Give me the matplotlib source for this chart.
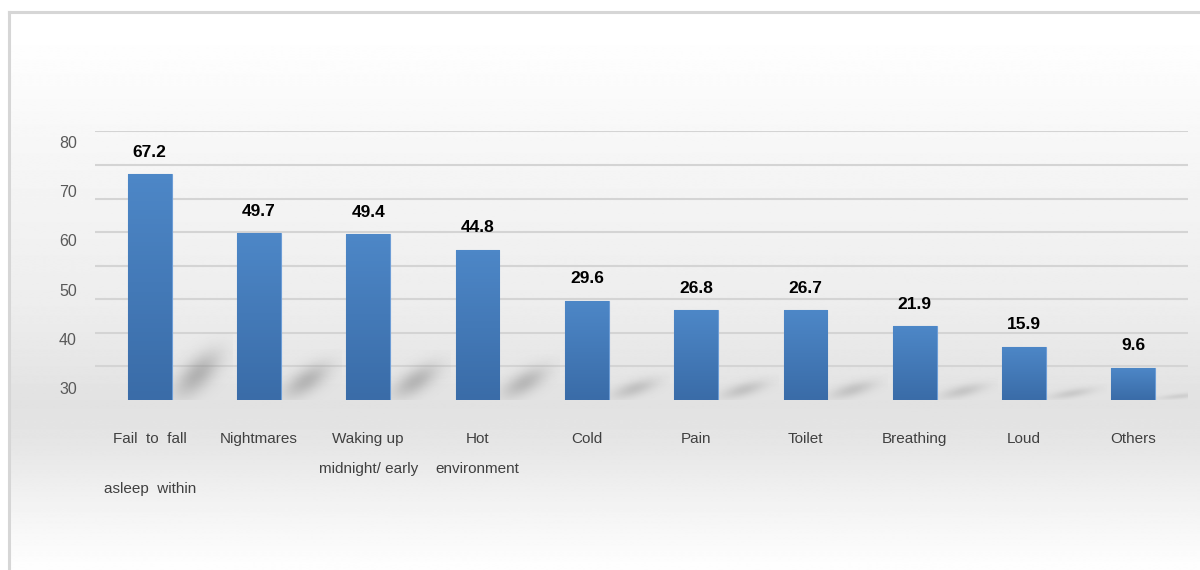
#!/usr/bin/env python3
''' Bar chart of reported sleep problems
'''

import numpy as np
import matplotlib
matplotlib.use('Agg')
from matplotlib import pyplot

#
# data
#

categories = ['Fail to fall asleep within', 'Nightmares', 'Waking up midnight/ early',
              'Hot environment', 'Cold', 'Pain', 'Toilet', 'Breathing', 'Loud', 'Others']
label_lines = [
    ['Fail  to  fall', 'asleep  within'],
    ['Nightmares'],
    ['Waking up', 'midnight/ early'],
    ['Hot', 'environment'],
    ['Cold'],
    ['Pain'],
    ['Toilet'],
    ['Breathing'],
    ['Loud'],
    ['Others'],
]
values = [67.2, 49.7, 49.4, 44.8, 29.6, 26.8, 26.7, 21.9, 15.9, 9.6]
axis_labels = [30, 40, 50, 60, 70, 80]

#
# plot
#

W, H = 1200, 570
fig = pyplot.figure(figsize=(W / 100, H / 100), dpi=100)
fig.patch.set_facecolor('white')

# background gradient + frame
bg = fig.add_axes([0, 0, 1, 1], zorder=0)
bg.axis('off')
rows = np.arange(H)
gray = np.interp(rows, [12, 40, 130, 300, 400, 440, 500, 565],
                 [1.0, 0.995, 0.968, 0.93, 0.885, 0.9, 0.95, 0.995])
img = np.repeat(gray[:, None], 2, axis=1)
bg.imshow(img, cmap='gray', vmin=0, vmax=1, aspect='auto',
          extent=[9, W, H, 12], interpolation='bilinear')
bg.plot([9, W], [12, 12], color='#d6d6d6', lw=2.2)
bg.plot([9, 9], [12, H], color='#d6d6d6', lw=2.2)
bg.set_xlim(0, W)
bg.set_ylim(H, 0)

# main axes
ax = fig.add_axes([95 / W, 170 / H, 1093 / W, 268.5 / H], zorder=2)
ax.patch.set_alpha(0)
x = np.arange(len(values))
for s in ax.spines.values():
    s.set_visible(False)
ax.set_xticks([])
ax.set_yticks([])

# gridlines
for g in range(10, 81, 10):
    ax.axhline(g, color='#d4d4d4', lw=1.5, zorder=1)

# soft shadows behind bars
n = 200
u, w = np.meshgrid(np.linspace(0, 1, n), np.linspace(0, 1, n))
t = np.clip((u + w) / 2, 0, 1)
alpha = (np.exp(-((w - u * 0.9) ** 2) / (2 * 0.2 ** 2))
         * np.exp(-((t - 0.4) ** 2) / (2 * 0.22 ** 2)))
for xi, v in zip(x, values):
    sh = np.zeros((n, n, 4))
    sh[..., :3] = 0.5
    sh[..., 3] = alpha * min(0.5, 0.15 + v / 160)
    h = 0.3 * v
    ax.imshow(sh, extent=[xi + 0.2, xi + 0.2 + 0.55, 0, h], origin='lower',
              aspect='auto', zorder=2, interpolation='antialiased')

# bars with a vertical gradient
bars = ax.bar(x, values, width=0.4, color='#4680c0', edgecolor='#6d9dd6',
              lw=0.8, zorder=3)
grad = np.linspace(0, 1, 50)[:, None]
cmap = matplotlib.colors.LinearSegmentedColormap.from_list('bar', ['#3a6ca8', '#4d87c7'])
for b, v in zip(bars, values):
    im = ax.imshow(grad, cmap=cmap, origin='lower', aspect='auto',
                   extent=[b.get_x(), b.get_x() + b.get_width(), 0, v], zorder=3.5)
    im.set_clip_path(b)
ax.set_xlim(-0.5, len(values) - 0.5)
ax.set_ylim(0, 80)

# value labels
for xi, v in zip(x, values):
    ax.annotate('{:.1f}'.format(v), (xi, v), xytext=(0, 22), textcoords='offset pixels',
                ha='center', va='center', fontsize=12.5, fontweight='bold',
                family='Liberation Sans', color='black', zorder=5)

# category labels
trans = matplotlib.transforms.blended_transform_factory(ax.transData, ax.transAxes)
for xi, lines in zip(x, label_lines):
    ys = [-0.145, -0.257] if xi != 0 else [-0.145, -0.331]
    for line, yy in zip(lines, ys):
        ax.text(xi, yy, line, transform=trans, ha='center', va='center',
                fontsize=11, family='Liberation Sans', color='#404040')

# y axis labels (on their own scale, as in the source)
ax2 = fig.add_axes(ax.get_position(), zorder=1)
ax2.patch.set_alpha(0)
ax2.set_ylim(30 - 12 * 50 / 246, 30 + 256.5 * 50 / 246)
ax2.set_yticks(axis_labels)
ax2.set_yticklabels([str(a) for a in axis_labels], fontsize=11.5,
                    family='Liberation Sans', color='#595959')
ax2.tick_params(axis='y', length=0, pad=13)
ax2.set_xticks([])
for s in ax2.spines.values():
    s.set_visible(False)

fig.savefig('out.png', dpi=100)
